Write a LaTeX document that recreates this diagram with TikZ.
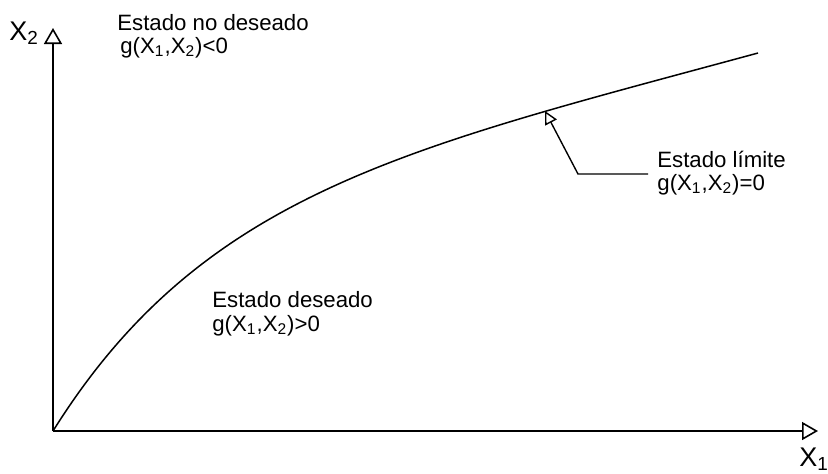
\documentclass[tikz,border=0pt]{standalone}
\usepackage{fontspec}
\setmainfont{Liberation Sans}
\usetikzlibrary{arrows.meta}
\newcommand{\gfun}{g(X\textsubscript{1},X\textsubscript{2})}
\begin{document}
\begin{tikzpicture}[x=0.5pt,y=-0.5pt,
axis/.style={line width=0.8pt,-{Triangle[open,length=8pt,width=9pt]}},
lbl/.style={anchor=base west,inner sep=0pt,font=\fontsize{11.1pt}{13pt}\selectfont},
axlbl/.style={anchor=base west,inner sep=0pt,font=\fontsize{13.5pt}{15pt}\selectfont}]
\useasboundingbox (0,0) rectangle (828,473);
\coordinate (O) at (53,431);
\coordinate (xend) at (818,431);
\coordinate (yend) at (53,28);
\draw[axis] (O) -- (xend);
\draw[axis] (O) -- (yend);
\node[axlbl] (x1) at (799,466) {X\textsubscript{1}};
\node[axlbl] (x2) at (9,40) {X\textsubscript{2}};
\coordinate (cend) at (758,53);
\draw[line width=0.75pt] (O) .. controls (203,191) and (408,148) .. (cend);
\node[lbl] (nodes1) at (117,30) {Estado no deseado};
\node[lbl] (nodes2) at (120,53) {\gfun<0};
\node[lbl] (des1) at (212,307) {Estado deseado};
\node[lbl] (des2) at (212,331) {\gfun>0};
\node[lbl] (lim1) at (657,167) {Estado límite};
\node[lbl] (lim2) at (657,190) {\gfun=0};
\coordinate (tip) at (545,111);
\coordinate (knee) at (578,174);
\coordinate (hend) at (648,174);
\draw[line width=0.7pt,-{Triangle[open,length=6.5pt,width=6.5pt]}] (hend) -- (knee) -- (tip);
\end{tikzpicture}
\end{document}
